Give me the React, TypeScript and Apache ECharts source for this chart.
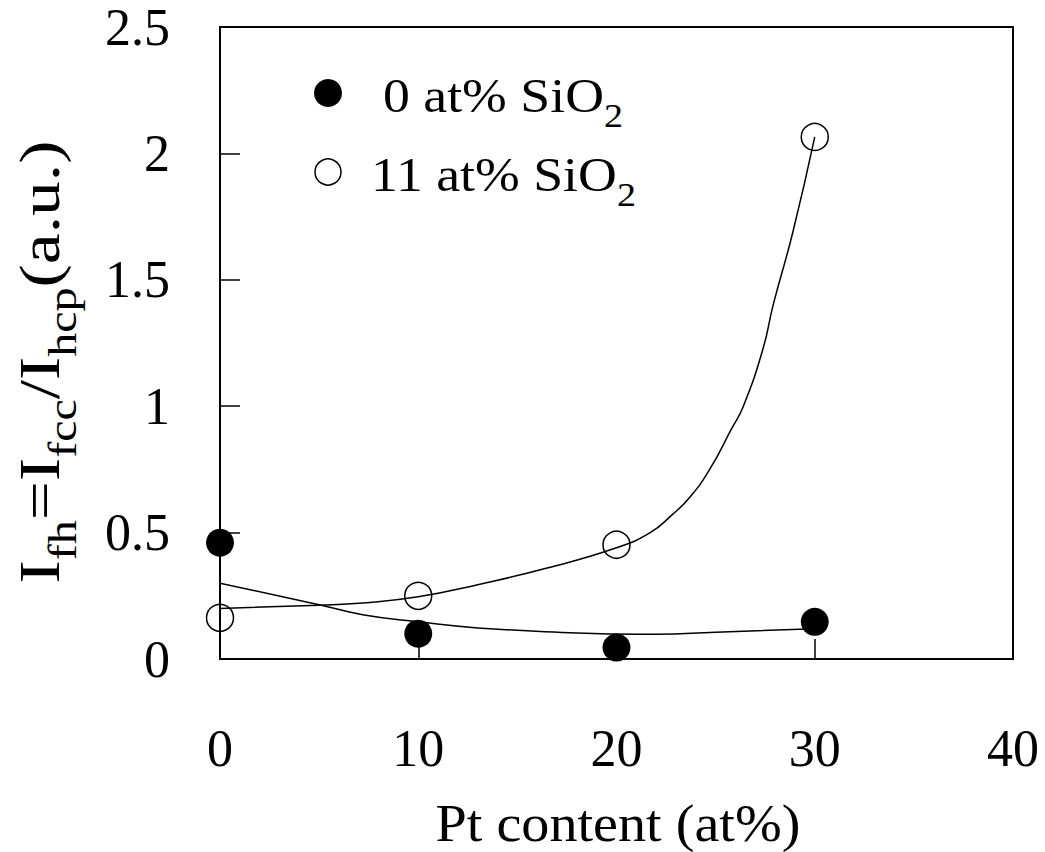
import React, { useEffect, useRef } from "react";
import * as echarts from "echarts";

// Pt content (at%) of the measured films
const ptContent = [0, 10, 20, 30];
// I_fh for films without SiO2 and with 11 at% SiO2
const fh0SiO2 = [0.46, 0.1, 0.045, 0.147];
const fh11SiO2 = [0.163, 0.25, 0.452, 2.065];

// Guide-to-the-eye curves drawn through each data set
const guide0SiO2: [number, number][] = [
  [0, 0.3], [5, 0.215], [7.2, 0.175], [10, 0.147], [13, 0.123],
  [18, 0.103], [20, 0.099], [22, 0.098], [25, 0.106], [30, 0.12],
];
const guide11SiO2: [number, number][] = [
  [0, 0.2], [5, 0.213], [7.2, 0.222], [10, 0.246], [13, 0.294],
  [16.5, 0.36], [20, 0.44], [21.7, 0.5], [22.8, 0.57], [23.7, 0.64],
  [24.7, 0.75], [25.8, 0.91], [26.4, 1.0], [27.4, 1.23], [27.9, 1.4],
  [28.9, 1.69], [30, 2.065],
];

const legendLabels = ["0 at% SiO", "11 at% SiO"];

const FONT = "'Liberation Serif', 'Times New Roman', serif";

export default function App() {
  const ref = useRef<HTMLDivElement>(null);

  useEffect(() => {
    if (!ref.current) return;
    const chart = echarts.init(ref.current, undefined, { renderer: "svg" });

    // subscript tokens sit at the bottom of the line box, below the baseline
    const legendRich = {
      m: { fontFamily: FONT, fontSize: 48, lineHeight: 52, color: "#000" },
      s: { fontFamily: FONT, fontSize: 34, lineHeight: 52, height: 12, verticalAlign: "bottom", color: "#000" },
    };
    const yRich = {
      m: { fontFamily: FONT, fontSize: 58, lineHeight: 60, color: "#000" },
      s: { fontFamily: FONT, fontSize: 40, lineHeight: 60, height: 14, verticalAlign: "bottom", color: "#000" },
    };

    chart.setOption({
      animation: false,
      backgroundColor: "#fff",
      grid: {
        left: 220,
        right: 32,
        top: 27,
        bottom: 193,
        show: true,
        borderColor: "#000",
        borderWidth: 2,
      },
      xAxis: {
        type: "value",
        min: 0,
        max: 40,
        interval: 10,
        axisLine: { show: true, lineStyle: { color: "#000", width: 2 } },
        axisTick: { show: true, inside: true, length: 20, lineStyle: { color: "#000", width: 1.5 } },
        splitLine: { show: false },
        axisLabel: { margin: 63, fontFamily: FONT, fontSize: 52, color: "#000" },
      },
      yAxis: {
        type: "value",
        min: 0,
        max: 2.5,
        interval: 0.5,
        axisLine: { show: true, lineStyle: { color: "#000", width: 2 } },
        axisTick: { show: true, inside: true, length: 20, lineStyle: { color: "#000", width: 1.5 } },
        splitLine: { show: false },
        axisLabel: { margin: 50, fontFamily: FONT, fontSize: 52, color: "#000" },
      },
      graphic: [
        // legend
        {
          type: "circle",
          shape: { cx: 328, cy: 93, r: 14 },
          style: { fill: "#000" },
        },
        {
          type: "circle",
          shape: { cx: 328, cy: 172, r: 13 },
          style: { fill: "none", stroke: "#000", lineWidth: 1.5 },
        },
        {
          type: "text",
          x: 383,
          y: 96,
          scaleX: 1.12,
          style: {
            text: `{m|${legendLabels[0]}}{s|2}`,
            rich: legendRich,
            align: "left",
            verticalAlign: "middle",
          },
        },
        {
          type: "text",
          x: 371,
          y: 175,
          scaleX: 1.12,
          style: {
            text: `{m|${legendLabels[1]}}{s|2}`,
            rich: legendRich,
            align: "left",
            verticalAlign: "middle",
          },
        },
        // axis titles
        {
          type: "text",
          x: 618,
          y: 824,
          scaleX: 1.08,
          style: {
            text: "Pt content (at%)",
            fontFamily: FONT,
            fontSize: 52,
            lineHeight: 44,
            fill: "#000",
            align: "center",
            verticalAlign: "middle",
          },
        },
        {
          type: "text",
          x: 40,
          y: 362,
          rotation: Math.PI / 2,
          scaleX: 1.2,
          style: {
            text: "{m|I}{s|fh}{m|=I}{s|fcc}{m|/I}{s|hcp}{m|(a.u.)}",
            rich: yRich,
            align: "center",
            verticalAlign: "middle",
          },
        },
      ],
      series: [
        {
          type: "line",
          data: guide0SiO2,
          smooth: true,
          showSymbol: false,
          silent: true,
          lineStyle: { color: "#000", width: 1.5 },
          z: 2,
        },
        {
          type: "line",
          data: guide11SiO2,
          smooth: true,
          showSymbol: false,
          silent: true,
          lineStyle: { color: "#000", width: 1.5 },
          z: 2,
        },
        {
          type: "scatter",
          data: ptContent.map((x, i) => [x, fh0SiO2[i]]),
          symbol: "circle",
          symbolSize: 28,
          itemStyle: { color: "#000", opacity: 1 },
          z: 3,
        },
        {
          type: "scatter",
          data: ptContent.map((x, i) => [x, fh11SiO2[i]]),
          symbol: "circle",
          symbolSize: 27,
          itemStyle: { color: "rgba(0,0,0,0)", borderColor: "#000", borderWidth: 1.5, opacity: 1 },
          z: 3,
        },
      ],
    });

    return () => chart.dispose();
  }, []);

  return (
    <div
      ref={ref}
      style={{ position: "absolute", left: 0, top: 0, width: 1045, height: 852 }}
    />
  );
}
